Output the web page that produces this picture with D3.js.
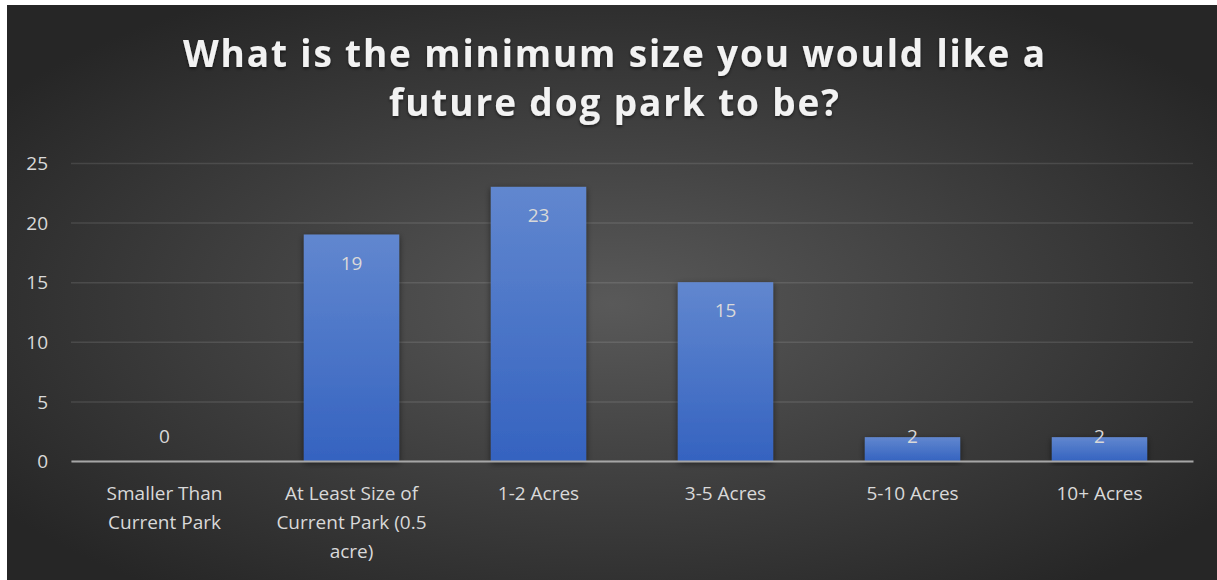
<!DOCTYPE html>
<html>
<head>
<meta charset="utf-8">
<script src="https://cdn.jsdelivr.net/npm/d3@7"></script>
<style>
  html, body { margin: 0; padding: 0; background: #ffffff; }
  svg { display: block; }
</style>
</head>
<body>
<svg id="chart" width="1217" height="580"></svg>
<script>
const titleLines = ["What is the minimum size you would like a", "future dog park to be?"];
const categories = ["Smaller Than Current Park", "At Least Size of Current Park (0.5 acre)", "1-2 Acres", "3-5 Acres", "5-10 Acres", "10+ Acres"];
const values = [0, 19, 23, 15, 2, 2];
const yTicks = [0, 5, 10, 15, 20, 25];

const svg = d3.select("#chart");
const W = 1217, H = 580;
const frame = {x: 7, y: 5, w: W - 7, h: H - 5};
const m = {left: 71, right: 1193, top: 163, bottom: 461};
const font = "'Open Sans', 'DejaVu Sans', sans-serif";
const fs = 19;

const defs = svg.append("defs");
const bg = defs.append("radialGradient").attr("id", "bg")
  .attr("cx", "50%").attr("cy", "52%").attr("r", "62%");
bg.append("stop").attr("offset", "0%").attr("stop-color", "#595959");
bg.append("stop").attr("offset", "100%").attr("stop-color", "#262626");

const barGrad = defs.append("linearGradient").attr("id", "barGrad")
  .attr("x1", 0).attr("y1", 0).attr("x2", 0).attr("y2", 1);
barGrad.append("stop").attr("offset", "0%").attr("stop-color", "#6187cf");
barGrad.append("stop").attr("offset", "100%").attr("stop-color", "#3563c0");

const shadow = defs.append("filter").attr("id", "shadow")
  .attr("x", "-20%").attr("y", "-20%").attr("width", "140%").attr("height", "140%");
shadow.append("feDropShadow").attr("dx", 0).attr("dy", 2).attr("stdDeviation", 3)
  .attr("flood-color", "#000").attr("flood-opacity", 0.55);

const tshadow = defs.append("filter").attr("id", "tshadow")
  .attr("x", "-5%").attr("y", "-20%").attr("width", "110%").attr("height", "140%");
tshadow.append("feDropShadow").attr("dx", 0).attr("dy", 2).attr("stdDeviation", 1.5)
  .attr("flood-color", "#000").attr("flood-opacity", 0.5);

svg.append("rect").attr("x", frame.x).attr("y", frame.y)
  .attr("width", frame.w).attr("height", frame.h).attr("fill", "url(#bg)");

// Title
const titleWidths = [862, 450];
const titleBase = [67, 116];
svg.append("g").attr("filter", "url(#tshadow)")
  .selectAll("text").data(titleLines).join("text")
  .attr("x", 614).attr("y", (d, i) => titleBase[i])
  .attr("text-anchor", "middle")
  .attr("font-family", font).attr("font-weight", 700).attr("font-size", 37)
  .attr("fill", "#f2f2f2")
  .attr("textLength", (d, i) => titleWidths[i])
  .attr("lengthAdjust", "spacing")
  .text(d => d);

const x = d3.scaleBand().domain(categories).range([m.left, m.right]).paddingInner(0.49).paddingOuter(0.245);
const y = d3.scaleLinear().domain([0, 25]).range([m.bottom, m.top]);

// Gridlines
const gy = svg.append("g").attr("transform", `translate(${m.left},0)`)
  .call(d3.axisLeft(y).tickValues(yTicks).tickSize(-(m.right - m.left)).tickFormat(""));
gy.select(".domain").remove();
gy.selectAll(".tick line").attr("stroke", "#ffffff").attr("stroke-opacity", 0.11).attr("stroke-width", 1.5);

// Y labels
const yl = svg.append("g").attr("transform", `translate(${m.left - 23},0)`)
  .call(d3.axisLeft(y).tickValues(yTicks).tickSize(0).tickPadding(0));
yl.select(".domain").remove();
yl.selectAll(".tick text").attr("font-family", font).attr("font-size", fs)
  .attr("fill", "#d9d9d9").attr("dy", "0.35em");

// Bars
svg.append("g").selectAll("rect").data(values).join("rect")
  .attr("x", (d, i) => x(categories[i]))
  .attr("y", d => y(d))
  .attr("width", x.bandwidth())
  .attr("height", d => y(0) - y(d))
  .attr("fill", "url(#barGrad)")
  .attr("filter", "url(#shadow)");

// Axis line
const xa = svg.append("g").attr("transform", `translate(0,${m.bottom})`)
  .call(d3.axisBottom(x).tickSize(0).tickFormat(""));
xa.select(".domain").attr("stroke", "#a6a6a6").attr("stroke-width", 2.2);

// Data labels
svg.append("g").selectAll("text").data(values).join("text")
  .attr("x", (d, i) => x(categories[i]) + x.bandwidth() / 2)
  .attr("y", d => Math.min(y(d) + 35, y(0) - 18))
  .attr("text-anchor", "middle")
  .attr("font-family", font).attr("font-size", fs)
  .attr("fill", "#d9d9d9")
  .text(d => d);

// Category labels with wrapping
const lab = svg.append("g");
categories.forEach(c => {
  const cx = x(c) + x.bandwidth() / 2;
  const t = lab.append("text").attr("text-anchor", "middle")
    .attr("font-family", font).attr("font-size", fs).attr("fill", "#d9d9d9");
  const words = c.split(" ");
  let lines = [], cur = [];
  const probe = t.append("tspan");
  words.forEach(w => {
    const test = cur.concat([w]).join(" ");
    probe.text(test);
    if (probe.node().getComputedTextLength() > 165 && cur.length) {
      lines.push(cur.join(" "));
      cur = [w];
    } else cur.push(w);
  });
  lines.push(cur.join(" "));
  probe.remove();
  lines.forEach((l, i) => {
    t.append("tspan").attr("x", cx).attr("y", 500 + i * 29).text(l);
  });
});
</script>
</body>
</html>
